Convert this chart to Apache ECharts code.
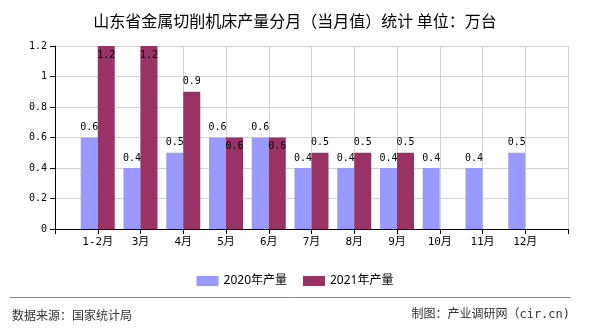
<!DOCTYPE html>
<html>
<head>
<meta charset="utf-8">
<script src="https://cdn.jsdelivr.net/npm/echarts@6/dist/echarts.min.js"></script>
<style>html,body{margin:0;padding:0;background:#fff;}#c{width:590px;height:330px;}</style>
</head>
<body>
<div id="c"></div>
<script>
var titleText = '山东省金属切削机床产量分月（当月值）统计 单位：万台';
var months = ['1-2月','3月','4月','5月','6月','7月','8月','9月','10月','11月','12月'];
var seriesNames = ['2020年产量','2021年产量'];
var values2020 = [0.6,0.4,0.5,0.6,0.6,0.4,0.4,0.4,0.4,0.4,0.5];
var values2021 = [1.2,1.2,0.9,0.6,0.6,0.5,0.5,0.5,null,null,null];
var yTicks = [0,0.2,0.4,0.6,0.8,1,1.2];
var sourceText = '数据来源：国家统计局';
var makerText = '制图：产业调研网（cir.cn)';

var mono = '"DejaVu Sans Mono", monospace';
var cats = [''].concat(months).concat(['']);
function pad(arr){ return [null].concat(arr).concat([null]); }

function redData(){
  return pad(values2021).map(function(v, i){
    if (v == null) return null;
    var m = i - 1;
    var v20 = values2020[m];
    if (v >= 1.2 || v === v20) {
      return {value: v, label: {position: 'insideTop', distance: 4}};
    }
    return v;
  });
}

var chart = echarts.init(document.getElementById('c'));
chart.setOption({
  animation: false,
  backgroundColor: '#fff',
  title: {
    text: titleText, left: 'center', top: 8,
    textStyle: {fontFamily: '"Noto Sans CJK SC"', fontSize: 16, fontWeight: 'normal', color: '#000'}
  },
  legend: {
    data: seriesNames, left: 'center', top: 270,
    itemWidth: 22, itemHeight: 10, itemGap: 16,
    icon: 'rect',
    textStyle: {fontFamily: '"Noto Sans", "Noto Sans CJK SC"', fontSize: 12, color: '#000'}
  },
  grid: {left: 55, right: 22, top: 46, bottom: 101},
  xAxis: {
    type: 'category', data: cats, boundaryGap: false,
    axisLine: {lineStyle: {color: '#000'}},
    axisTick: {show: true, length: 5, lineStyle: {color: '#000'}},
    axisLabel: {fontFamily: mono + ', "Noto Sans CJK SC"', fontSize: 11, color: '#000', margin: 8, interval: 0},
    splitLine: {show: true, lineStyle: {color: '#d3d3d3'}}
  },
  yAxis: {
    type: 'value', min: 0, max: 1.2, interval: 0.2,
    axisLine: {show: true, lineStyle: {color: '#000'}},
    axisTick: {show: true, length: 5, lineStyle: {color: '#000'}},
    axisLabel: {fontFamily: mono, fontSize: 10, color: '#000', margin: 8,
      formatter: function(v){ var t = yTicks.reduce(function(a,b){return Math.abs(b-v)<Math.abs(a-v)?b:a;}); return String(t); }},
    splitLine: {show: true, lineStyle: {color: '#d3d3d3'}}
  },
  series: [
    {
      name: seriesNames[0], type: 'bar', data: pad(values2020),
      barWidth: 17, barGap: '0%',
      itemStyle: {color: '#9999FF'},
      label: {show: true, position: 'top', distance: 5, fontFamily: mono, fontSize: 10, color: '#000'}
    },
    {
      name: seriesNames[1], type: 'bar', data: redData(),
      barWidth: 17, barGap: '0%',
      itemStyle: {color: '#993366'},
      label: {show: true, position: 'top', distance: 5, fontFamily: mono, fontSize: 10, color: '#000'}
    }
  ],
  graphic: [
    {type: 'line', shape: {x1: 10, y1: 297.5, x2: 571, y2: 297.5}, style: {stroke: '#888', lineWidth: 1}},
    {type: 'text', left: 12, top: 309, style: {text: sourceText, font: '12px "Noto Sans CJK SC"', fill: '#333'}},
    {type: 'text', right: 20, top: 309, style: {text: makerText, font: '12px "DejaVu Sans Mono", "Noto Sans CJK SC"', fill: '#333'}}
  ]
});
</script>
</body>
</html>
